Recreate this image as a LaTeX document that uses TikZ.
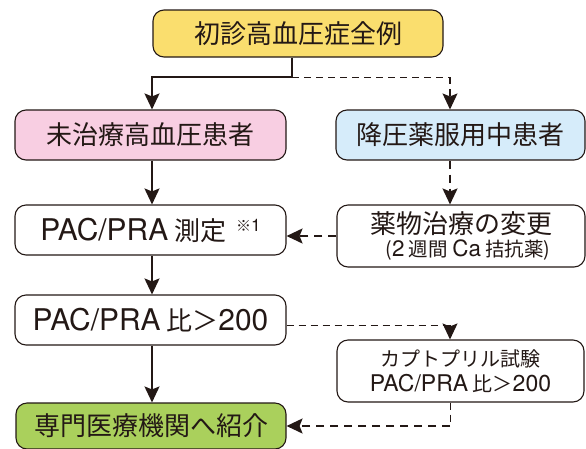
\documentclass[tikz,border=0pt]{standalone}
\usepackage{fontspec}
\newfontfamily\jp{Noto Sans CJK JP}
\newfontfamily\latf[Scale=1.15]{TeX Gyre Heros}
\newcommand\lt[1]{{\latf #1}}
\usetikzlibrary{arrows.meta}
\definecolor{ink}{RGB}{35,24,21}
\definecolor{cyellow}{RGB}{250,222,110}
\definecolor{cpink}{RGB}{248,206,226}
\definecolor{cblue}{RGB}{214,236,250}
\definecolor{cgreen}{RGB}{170,208,92}
\tikzset{
  box/.style={draw=ink, line width=1.1pt, rounded corners=11pt, inner sep=0pt,
    align=center, text=ink, font=\jp\fontsize{26}{30}\selectfont},
  solidarrow/.style={draw=ink, line width=1.8pt, -{Stealth[length=16pt,width=15pt,inset=3pt]}},
  thindash/.style={draw=ink, line width=1pt, dash pattern=on 7pt off 5pt},
  thickdash/.style={draw=ink, line width=2pt, dash pattern=on 8pt off 6pt},
  dtip/.style={-{Stealth[length=16pt,width=15pt,inset=3pt]}},
}
\begin{document}
\begin{tikzpicture}[x=1pt,y=-1pt]
\useasboundingbox (0,0) rectangle (586,448);
\node[box, fill=cyellow, minimum width=290pt, minimum height=47pt] (top) at (298,33.5) {初診高血圧症全例};
\node[box, fill=cpink, minimum width=271pt, minimum height=50pt] (pink) at (150.5,135) {未治療高血圧患者};
\node[box, fill=cblue, minimum width=249pt, minimum height=50pt] (blue) at (460.5,135) {降圧薬服用中患者};
\node[box, fill=white, minimum width=271pt, minimum height=50pt] (meas) at (150.5,230) {\lt{PAC/PRA} 測定\hspace{10pt}\raisebox{9pt}{\fontsize{15}{15}\selectfont ※\lt{1}}};
\node[box, fill=white, minimum width=248pt, minimum height=62pt] (drug) at (461,236) {薬物治療の変更\\[-7pt]{\fontsize{19.5}{20}\selectfont\hspace*{14pt}(\lt{2} 週間 \lt{Ca} 拮抗薬)}};
\node[box, fill=white, minimum width=271pt, minimum height=50pt] (ratio) at (150.5,320) {\lt{PAC/PRA} 比＞\lt{200}};
\node[box, fill=white, minimum width=247pt, minimum height=62pt, font=\jp\fontsize{20}{25}\selectfont] (capt) at (460.5,371) {カプトプリル試験\\\lt{PAC/PRA} 比＞\lt{200}};
\node[box, fill=cgreen, minimum width=270pt, minimum height=46pt] (green) at (151,426) {専門医療機関へ紹介};
\coordinate (j) at (292,77);
\coordinate (xr) at (450,0);
\coordinate (xl) at (152,0);
% connectors
\draw[draw=ink, line width=1.8pt] (top.south -| j) -- (j);
\draw[solidarrow] (j) -| (pink.north -| xl);
\draw[thindash] (j) -- (j -| xr);
\draw[thindash, line width=1.2pt, dtip] (j -| xr) -- (blue.north -| xr);
\draw[thickdash, dtip] (blue.south -| xr) -- (drug.north -| xr);
\draw[thickdash, dtip] (drug.west) -- (drug.west -| meas.east);
\draw[solidarrow] (pink.south -| xl) -- (meas.north -| xl);
\draw[solidarrow] (meas.south -| xl) -- (ratio.north -| xl);
\draw[solidarrow] (ratio.south -| xl) -- (green.north -| xl);
\coordinate (rq) at ([yshift=-5pt]ratio.east);
\draw[thindash] (rq) -- (rq -| xr);
\draw[thindash, line width=1.2pt, dtip] (rq -| xr) -- (capt.north -| xr);
\draw[thindash] (capt.south -| xr) -- (green.east -| xr);
\draw[thickdash, dtip] (green.east -| xr) -- (green.east);
\end{tikzpicture}
\end{document}
